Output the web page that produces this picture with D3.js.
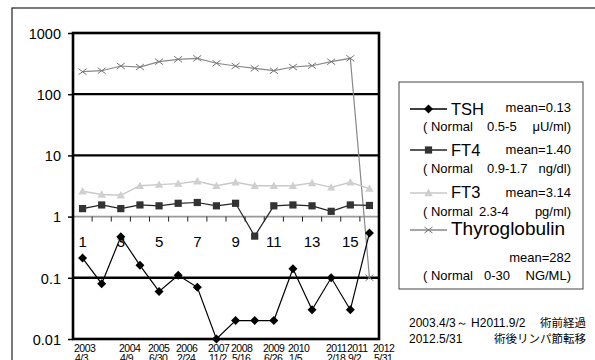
<!DOCTYPE html>
<html><head><meta charset="utf-8">
<script src="https://cdn.jsdelivr.net/npm/d3@7"></script>
<style>
html,body{margin:0;padding:0;background:#fff;}
svg{display:block;font-family:"Liberation Sans",Arial,sans-serif;}
</style></head>
<body><svg id="c" width="595" height="360"></svg>
<script>
// ---- data ----
const visits = [1,2,3,4,5,6,7,8,9,10,11,12,13,14,15,16];
const visitLabels = ["1","","3","","5","","7","","9","","11","","13","","15",""];
const tsh = [0.21,0.08,0.47,0.16,0.06,0.11,0.07,0.01,0.02,0.02,0.02,0.14,0.03,0.10,0.03,0.54];
const ft4 = [1.35,1.55,1.35,1.55,1.5,1.65,1.7,1.5,1.65,0.48,1.5,1.55,1.5,1.22,1.55,1.52];
const ft3 = [2.6,2.3,2.23,3.2,3.33,3.46,3.78,3.2,3.64,3.2,3.2,3.2,3.55,3.0,3.64,2.87];
const tg  = [233,242,289,278,340,372,386,320,289,265,242,278,292,340,386,0.1];
const yTicks = [0.01,0.1,1,10,100,1000];
const dateYears = ["2003","2004","2005","2006","2007","2008","2009","2010","2011","2011","2012"];
const dateDays  = ["4/3","4/9","6/30","2/24","11/2","5/16","6/26","1/5","2/18","9/2","5/31"];
const legendNames = ["TSH","FT4","FT3","Thyroglobulin"];
const legendMeans = ["mean=0.13","mean=1.40","mean=3.14","mean=282"];
const legendRanges = ["0.5-5","0.9-1.7","2.3-4","0-30"];
const legendUnits = ["\u03bcU/ml)","ng/dl)","pg/ml)","NG/ML)"];
const noteLines = [["2003.4/3\uff5e H2011.9/2","\u8853\u524d\u7d4c\u904e"],["2012.5/31","\u8853\u5f8c\u30ea\u30f3\u30d1\u7bc0\u8ee2\u79fb"]];

// ---- layout ----
const svg = d3.select("#c");
const L = 73, R = 379, T = 33, B = 339;
const x = d3.scaleBand().domain(visits).range([L, R]).padding(0);
const cx = d => x(d) + x.bandwidth()/2;
const y = d3.scaleLog().domain([0.01,1000]).range([B, T]);

// outer frame
svg.append("rect").attr("x",12).attr("y",8).attr("width",620).attr("height",400)
  .attr("fill","none").attr("stroke","#222").attr("stroke-width",1.2);

// gridlines
[100,10].forEach(v=>{
  svg.append("line").attr("x1",L).attr("x2",R).attr("y1",y(v)).attr("y2",y(v))
    .attr("stroke","#000").attr("stroke-width",2.2);
});
svg.append("line").attr("x1",L).attr("x2",R).attr("y1",y(0.1)).attr("y2",y(0.1))
  .attr("stroke","#000").attr("stroke-width",2.6);

// category axis at y=1
const catAxis = svg.append("g").attr("transform",`translate(0,${y(1)})`);
catAxis.append("line").attr("x1",L).attr("x2",R).attr("stroke","#999").attr("stroke-width",1.6);
catAxis.selectAll("line.tk").data(visits.slice(1)).join("line").attr("class","tk")
  .attr("x1",d=>x(d)).attr("x2",d=>x(d)).attr("y1",0).attr("y2",5)
  .attr("stroke","#222").attr("stroke-width",1);
catAxis.selectAll("text").data(visits).join("text")
  .attr("x",d=>cx(d)).attr("y",30).attr("text-anchor","middle")
  .attr("font-size",15).attr("fill","#000").text((d,i)=>visitLabels[i]);

// y axis
const yAxis = svg.append("g").attr("transform",`translate(${L},0)`)
  .call(d3.axisLeft(y).tickValues(yTicks).tickFormat(d=>String(d)).tickSize(5).tickPadding(7));
yAxis.select(".domain").remove();
yAxis.selectAll(".tick line").attr("stroke","#000").attr("stroke-width",1.5);
yAxis.selectAll(".tick text").attr("font-size",14.5).attr("fill","#000")
  .attr("font-family","Liberation Sans, Arial, sans-serif").attr("dy","0.36em");

// plot frame
svg.append("rect").attr("x",L).attr("y",T).attr("width",R-L).attr("height",B-T)
  .attr("fill","none").attr("stroke","#000").attr("stroke-width",2.6);

// marker helpers
function drawMarker(g, type, px, py, fill, stroke){
  if(type==="diamond"){
    g.append("path").attr("d",`M${px},${py-4.5}L${px+4.5},${py}L${px},${py+4.5}L${px-4.5},${py}Z`).attr("fill",fill);
  } else if(type==="square"){
    g.append("rect").attr("x",px-3.6).attr("y",py-3.6).attr("width",7.2).attr("height",7.2).attr("fill",fill);
  } else if(type==="triangle"){
    g.append("path").attr("d",`M${px},${py-4.2}L${px+4.2},${py+3.2}L${px-4.2},${py+3.2}Z`).attr("fill",fill);
  } else if(type==="x"){
    g.append("path").attr("d",`M${px-4},${py-3}L${px+4},${py+3}M${px-4},${py+3}L${px+4},${py-3}`)
      .attr("stroke",stroke).attr("stroke-width",1).attr("fill","none");
  }
}

const series = [
  {vals:tg, line:"#888", mark:"x", fill:"none", stroke:"#777", w:1.2},
  {vals:ft3, line:"#c8c8c8", mark:"triangle", fill:"#cfcfcf", stroke:"#cfcfcf", w:1.4},
  {vals:ft4, line:"#222", mark:"square", fill:"#333", stroke:"#333", w:1.2},
  {vals:tsh, line:"#000", mark:"diamond", fill:"#000", stroke:"#000", w:1.2}
];
const lineGen = d3.line().x((d,i)=>cx(visits[i])).y(d=>y(d));
series.forEach(s=>{
  const g = svg.append("g");
  g.append("path").attr("d",lineGen(s.vals)).attr("fill","none").attr("stroke",s.line).attr("stroke-width",s.w);
  s.vals.forEach((v,i)=>drawMarker(g,s.mark,cx(visits[i]),y(v),s.fill,s.stroke));
});

// date labels under axis (year line + month/day line, second line cut by page edge as in reference)
const dateX = [74,119,148,176,208,231,263,288,326,347,373];
const dg = svg.append("g").attr("font-size",10.5).attr("letter-spacing",-0.5).attr("fill","#000");
dateYears.forEach((t,i)=>{
  const tx = dg.append("text").attr("x",dateX[i]).attr("y",351.5);
  tx.append("tspan").attr("x",dateX[i]).text(t);
  tx.append("tspan").attr("x",dateX[i]+1).attr("dy",10).text(dateDays[i]);
});

// legend
const lg = svg.append("g");
lg.append("rect").attr("x",399).attr("y",82).attr("width",184).attr("height",207)
  .attr("fill","#fff").attr("stroke","#444").attr("stroke-width",1);
const legRows = [
  {ly:109, nameY:115, nameSize:16.5, meanY:112, normY:131},
  {ly:150, nameY:156, nameSize:16.5, meanY:154, normY:173},
  {ly:193, nameY:198, nameSize:16.5, meanY:197, normY:216},
  {ly:230, nameY:235, nameSize:19, meanY:262, normY:280}
];
const legSeries = [series[3],series[2],series[1],series[0]];
const rangeX = [487,487,479,484];
legRows.forEach((r,i)=>{
  const s = legSeries[i];
  lg.append("line").attr("x1",410).attr("x2",447).attr("y1",r.ly).attr("y2",r.ly)
    .attr("stroke",s.line).attr("stroke-width",s.w+0.2);
  drawMarker(lg,s.mark,428.5,r.ly,s.fill,s.stroke);
  lg.append("text").attr("x",451).attr("y",r.nameY).attr("font-size",r.nameSize).text(legendNames[i]);
  lg.append("text").attr("x",571).attr("y",r.meanY).attr("font-size",13).attr("text-anchor","end").text(legendMeans[i]);
  lg.append("text").attr("x",423).attr("y",r.normY).attr("font-size",13).text("( Normal");
  lg.append("text").attr("x",rangeX[i]).attr("y",r.normY).attr("font-size",13).text(legendRanges[i]);
  lg.append("text").attr("x",571).attr("y",r.normY).attr("font-size",13).attr("text-anchor","end").text(legendUnits[i]);
});

// notes
const ng = svg.append("g").attr("font-size",12).attr("fill","#000");
noteLines.forEach((ln,i)=>{
  ng.append("text").attr("x",409).attr("y",327+i*16).text(ln[0]);
  ng.append("text").attr("x",586).attr("y",327+i*16).attr("text-anchor","end")
    .attr("font-family","Noto Sans CJK JP, sans-serif").attr("font-size",11.5).text(ln[1]);
});
</script></body></html>
